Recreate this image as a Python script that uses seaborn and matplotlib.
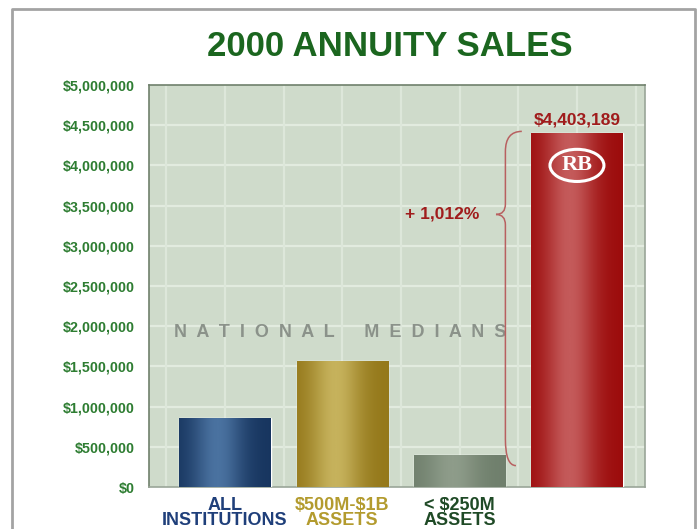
import numpy as np
import pandas as pd
import matplotlib
matplotlib.use("Agg")
import matplotlib.pyplot as plt
from matplotlib.colors import LinearSegmentedColormap
from matplotlib.path import Path
from matplotlib.patches import PathPatch, Ellipse
from matplotlib.lines import Line2D
import seaborn as sns

# 2000 annuity sales: national medians versus the bank
categories = ["All Institutions", "$500M-$1B Assets", "< $250M Assets", "RB"]
sales = [856000, 1563000, 396000, 4403189]
tick_labels = ["ALL\nINSTITUTIONS", "$500M-$1B\nASSETS", "< $250M\nASSETS", ""]
label_colors = ["#1f3f7a", "#b39b2e", "#1f4a26", "#ffffff"]
# (edge shade, highlight) pairs for the cylindrical bar shading
bar_shades = [("#17355f", "#4a72a0"), ("#94781a", "#c6b25c"),
              ("#6f7f6c", "#8e9c8a"), ("#9c0c0c", "#c45a5a")]
y_ticks = [0, 500000, 1000000, 1500000, 2000000, 2500000,
           3000000, 3500000, 4000000, 4500000, 5000000]

sns.set_style("white")
plt.rcParams["font.family"] = ["Liberation Sans", "DejaVu Sans"]

fig = plt.figure(figsize=(6.97, 5.29), dpi=100)
ax = fig.add_axes([149 / 697, 1 - 487 / 529, 496 / 697, 402 / 529])
ax.set_facecolor("#cfdbcb")

df = pd.DataFrame({"category": categories, "sales": sales})
sns.barplot(data=df, x="category", y="sales", hue="category",
            palette=[s[0] for s in bar_shades], legend=False,
            width=0.78, ax=ax, zorder=3, saturation=1)

# shade every bar with a horizontal gradient clipped to its rectangle
prof = np.linspace(0, 1, 200)
bright = np.exp(-((prof - 0.42) / 0.28) ** 2)
for patch, (edge, light) in zip(ax.patches, bar_shades):
    cmap = LinearSegmentedColormap.from_list("shade", [edge, light])
    x0, w, h = patch.get_x(), patch.get_width(), patch.get_height()
    im = ax.imshow(bright[np.newaxis, :], cmap=cmap, aspect="auto",
                   extent=[x0, x0 + w, 0, h], zorder=3.5,
                   interpolation="bilinear", vmin=0, vmax=1)
    im.set_clip_path(patch)

ax.set_xlim(-0.648, 3.58)
ax.set_ylim(0, 5000000)

# light grid lines
for y in y_ticks[1:-1]:
    ax.axhline(y, color="#e2ebdf", lw=1.6, zorder=1)
for x in np.arange(-0.5, 3.6, 0.5):
    ax.axvline(x, color="#dde7da", lw=1.6, zorder=1)

ax.set_yticks(y_ticks)
ax.set_yticklabels([("$" + f"{v:,.0f}").replace("$", r"\$") for v in y_ticks],
                   color="#2e7d32", fontsize=10.3, fontweight="bold")
ax.set_xticks(range(len(categories)))
ax.set_xticklabels([t.replace("$", r"\$") for t in tick_labels],
                   fontsize=13, fontweight="bold", linespacing=0.88)
for lbl, c in zip(ax.get_xticklabels(), label_colors):
    lbl.set_color(c)
ax.tick_params(axis="y", length=0, pad=10)
ax.tick_params(axis="x", length=0, pad=7)
ax.set_xlabel("")
ax.set_ylabel("")
for side, col in [("left", "#6f806c"), ("top", "#6f806c"),
                  ("right", "#9aa598"), ("bottom", "#9aa598")]:
    ax.spines[side].set_visible(True)
    ax.spines[side].set_color(col)
    ax.spines[side].set_linewidth(1.2)

# label over the bank's bar
bank = sales[3]
small = sales[2]
ax.annotate(("$" + f"{bank:,.0f}").replace("$", r"\$"), xy=(3, bank),
            xytext=(0, 4), textcoords="offset points", ha="center", va="bottom",
            color="#a01c1c", fontsize=12.5, fontweight="bold", zorder=6)

# bank logo
ax.add_patch(Ellipse((3, 4000000), 0.46, 400000, fill=False, ec="white",
                     lw=2.2, zorder=6))
ax.text(3, 4010000, "RB", color="white", fontsize=16, fontweight="bold",
        family=["Liberation Serif", "DejaVu Serif"], ha="center",
        va="center", zorder=6)

# curly brace between the small-bank median and the bank
xs, xt = 2.39, 2.31
tip = 3390000
verts = [(2.53, bank + 20000), (xs, bank + 20000), (xs, bank - 230000),
         (xs, tip + 130000), (xs, tip), (xt, tip),
         (xs, tip), (xs, tip - 130000),
         (xs, small + 200000), (xs, small - 130000), (2.48, small - 130000)]
codes = [Path.MOVETO, Path.CURVE3, Path.CURVE3,
         Path.LINETO, Path.CURVE3, Path.CURVE3,
         Path.CURVE3, Path.CURVE3,
         Path.LINETO, Path.CURVE3, Path.CURVE3]
ax.add_patch(PathPatch(Path(verts, codes), fill=False, ec="#b86060",
                       lw=1.1, zorder=5))

growth = (bank / small - 1) * 100
ax.text(2.17, tip, f"+ {growth:,.0f}%", color="#a01c1c", fontsize=12.5,
        fontweight="bold", ha="right", va="center", zorder=6)

ax.text(0.98, 1920000, "N  A  T  I  O  N  A  L      M  E  D  I  A  N  S",
        color="#8b928a", fontsize=13, fontweight="bold", ha="center",
        va="center", zorder=2)

fig.suptitle("2000 ANNUITY SALES", x=390 / 697, y=1 - 47 / 529, va="center",
             color="#1b661f", fontsize=25, fontweight="bold")

# outer frame
fig.add_artist(Line2D([12 / 697, 12 / 697, 695 / 697, 695 / 697],
                      [0, 1 - 9 / 529, 1 - 9 / 529, 0],
                      transform=fig.transFigure, color="#a3a3a3", lw=2))

fig.savefig("out.png", dpi=100)
